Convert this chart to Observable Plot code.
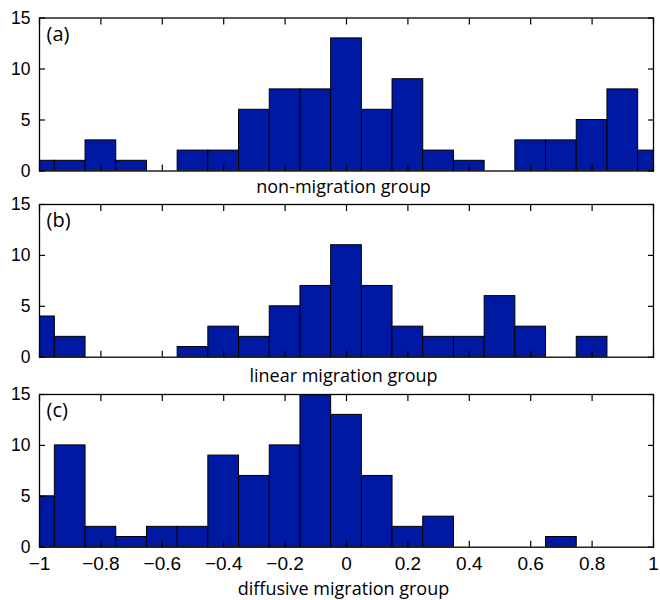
<!DOCTYPE html>
<html><head><meta charset="utf-8">
<script src="https://cdn.jsdelivr.net/npm/d3@7"></script>
<script src="https://cdn.jsdelivr.net/npm/@observablehq/plot@0.6"></script>
<style>
body{margin:0;background:#fff}
#chart{position:relative;width:660px;height:600px}
.p{position:absolute;left:0}
.p svg{overflow:visible}
</style>
</head><body><div id="chart"></div>
<script>
const binCenters = [-1,-0.9,-0.8,-0.7,-0.6,-0.5,-0.4,-0.3,-0.2,-0.1,0,0.1,0.2,0.3,0.4,0.5,0.6,0.7,0.8,0.9,1];
const countsA = [1,1,3,1,0,2,2,6,8,8,13,6,9,2,1,0,3,3,5,8,2];
const countsB = [4,2,0,0,0,1,3,2,5,7,11,7,3,2,2,6,3,0,2,0,0];
const countsC = [5,10,2,1,2,2,9,7,10,15,13,7,2,3,0,0,0,1,0,0,0];
const panelLabels = ["(a)","(b)","(c)"];
const groupLabels = ["non-migration group","linear migration group","diffusive migration group"];
const xTicks = [-1,-0.8,-0.6,-0.4,-0.2,0,0.2,0.4,0.6,0.8,1];
const yTicks = [0,5,10,15];

const binWidth = binCenters[1] - binCenters[0];
const fmtX = d => d < 0 ? "\u2212" + Math.abs(d) : String(d);
const labelFont = "'Open Sans', 'DejaVu Sans', sans-serif";
const tickFont = "'Liberation Sans', Arial, sans-serif";

const layouts = [
  {top: 0,   height: 198, marginTop: 17.5, marginBottom: 27.5, labelDy: 16.5, showX: false},
  {top: 198, height: 190, marginTop: 6,    marginBottom: 31.3, labelDy: 19.5, showX: false},
  {top: 388, height: 212, marginTop: 6,    marginBottom: 53.3, labelDy: 42,   showX: true}
];

function panel(counts, i) {
  const L = layouts[i];
  const data = binCenters.map((c, j) => ({x1: c - binWidth/2, x2: c + binWidth/2, n: counts[j]})).filter(d => d.n > 0);
  const marks = [
    Plot.rectY(data, {x1: "x1", x2: "x2", y: "n", fill: "#0019a3", stroke: "#000", strokeWidth: 1, clip: true}),
    Plot.axisX(xTicks, {anchor: "bottom", tickSize: -6, tickFormat: () => "", label: null, strokeWidth: 1.2}),
    Plot.axisX(xTicks, {anchor: "top", tickSize: -6, tickFormat: () => "", label: null, strokeWidth: 1.2}),
    Plot.axisY(yTicks, {anchor: "left", tickSize: -6, tickFormat: () => "", label: null, strokeWidth: 1.2}),
    Plot.axisY(yTicks, {anchor: "right", tickSize: -6, tickFormat: () => "", label: null, strokeWidth: 1.2}),
    Plot.axisY(yTicks, {anchor: "left", tickSize: 0, tickPadding: 9, tickFormat: d => String(d), label: null, fontSize: 17.5, fontFamily: tickFont}),
    Plot.frame({stroke: "#000", strokeWidth: 1.3}),
    Plot.text([panelLabels[i]], {frameAnchor: "top-left", lineAnchor: "middle", dx: 7, dy: 16.5, textAnchor: "start", fontSize: 20, fontFamily: labelFont, fill: "#000"}),
    Plot.text([groupLabels[i]], {frameAnchor: "bottom", lineAnchor: "middle", dx: -3, dy: L.labelDy, fontSize: 18, fontFamily: labelFont, fill: "#000"})
  ];
  if (L.showX) {
    marks.push(Plot.axisX(xTicks, {anchor: "bottom", tickSize: 0, tickPadding: 9.5, tickFormat: fmtX, label: null, fontSize: 19, fontFamily: tickFont}));
  }
  const p = Plot.plot({
    width: 660,
    height: L.height,
    marginLeft: 39,
    marginRight: 7,
    marginTop: L.marginTop,
    marginBottom: L.marginBottom,
    x: {domain: [-1, 1]},
    y: {domain: [0, 15]},
    style: {fontFamily: tickFont, color: "#000", background: "transparent"},
    marks
  });
  const wrap = document.createElement("div");
  wrap.className = "p";
  wrap.style.top = L.top + "px";
  wrap.appendChild(p);
  return wrap;
}

const chart = document.getElementById("chart");
[countsA, countsB, countsC].forEach((c, i) => chart.appendChild(panel(c, i)));
</script>
</body></html>
